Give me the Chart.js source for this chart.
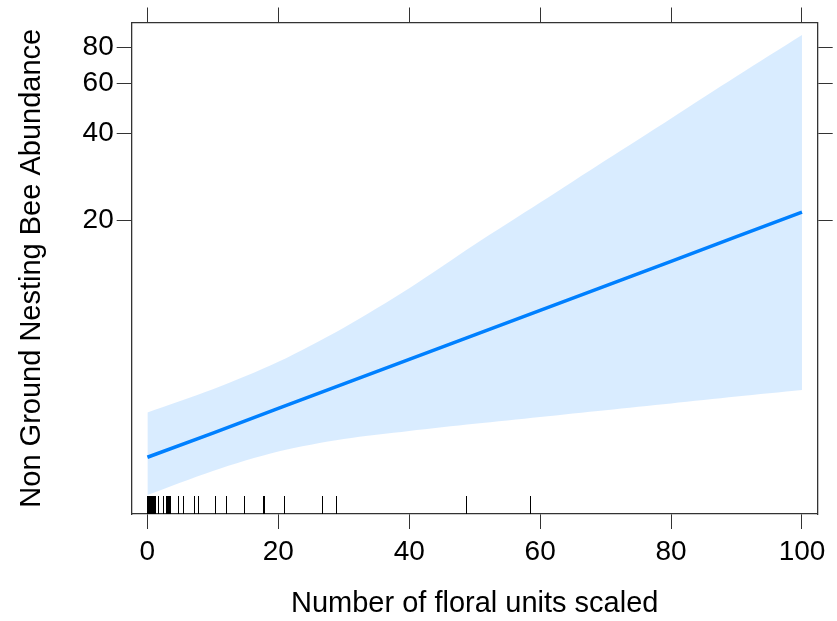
<!DOCTYPE html>
<html>
<head>
<meta charset="utf-8">
<script src="https://cdn.jsdelivr.net/npm/chart.js@4"></script>
<style>
  html, body { margin: 0; padding: 0; background: #fff; }
  #wrap { width: 837px; height: 621px; }
</style>
</head>
<body>
<div id="wrap"><canvas id="chart" width="837" height="621"></canvas></div>
<script>
// values
const xValues = [0, 10, 20, 30, 40, 50, 60, 70, 80, 90, 100];
const fitValues = [2.98, 3.62, 4.41, 5.37, 6.54, 7.96, 9.69, 11.8, 14.36, 17.5, 21.3];
const upperValues = [4.27, 5.14, 6.41, 8.43, 11.57, 16.42, 23.0, 32.3, 45.2, 63.4, 88.3];
const lowerValues = [2.2, 2.67, 3.12, 3.45, 3.68, 3.9, 4.12, 4.35, 4.59, 4.85, 5.11];
const rugValues = [0, 0.15, 0.3, 0.45, 0.6, 0.75, 0.9, 1.05, 1.2, 1.6, 2.45, 2.8, 2.95, 3.1, 3.3, 3.45,
  4.6, 5.4, 7.1, 7.8, 10.4, 12.0, 14.7, 17.6, 17.8, 20.8, 26.6, 28.8, 48.6, 58.5];
const xTickValues = [0, 20, 40, 60, 80, 100];
const yTickValues = [20, 40, 60, 80];

const FONT = "'Liberation Sans', Arial, sans-serif";
const AXIS_COLOR = "#333";

const toPoints = (vals) => xValues.map((x, i) => ({ x: x, y: vals[i] }));

// small rug of observed x values along the bottom edge
const rugPlugin = {
  id: "rug",
  afterDatasetsDraw(chart) {
    const { ctx, chartArea, scales } = chart;
    ctx.save();
    ctx.strokeStyle = "#000";
    ctx.lineWidth = 1;
    rugValues.forEach((v) => {
      const px = Math.round(scales.x.getPixelForValue(v)) + 0.5;
      ctx.beginPath();
      ctx.moveTo(px, chartArea.bottom);
      ctx.lineTo(px, chartArea.bottom - 18);
      ctx.stroke();
    });
    ctx.restore();
  },
};

const grid = {
  drawOnChartArea: false,
  tickLength: 15,
  tickColor: AXIS_COLOR,
  tickWidth: 1,
};
const border = { color: AXIS_COLOR, width: 1.3 };

new Chart(document.getElementById("chart"), {
  type: "line",
  data: {
    datasets: [
      {
        label: "fit",
        data: toPoints(fitValues),
        borderColor: "#0080ff",
        borderWidth: 3.5,
        pointRadius: 0,
        fill: false,
        tension: 0,
      },
      {
        label: "upper",
        data: toPoints(upperValues),
        borderWidth: 0,
        borderColor: "rgba(0,0,0,0)",
        backgroundColor: "rgba(0,128,255,0.15)",
        pointRadius: 0,
        fill: "+1",
        tension: 0.3,
      },
      {
        label: "lower",
        data: toPoints(lowerValues),
        borderWidth: 0,
        borderColor: "rgba(0,0,0,0)",
        pointRadius: 0,
        fill: false,
        tension: 0.3,
      },
    ],
  },
  options: {
    responsive: false,
    animation: false,
    layout: { padding: 0 },
    plugins: {
      legend: { display: false },
      tooltip: { enabled: false },
    },
    scales: {
      x: {
        type: "linear",
        position: "bottom",
        min: -2.4,
        max: 102.4,
        afterBuildTicks: (s) => { s.ticks = xTickValues.map((v) => ({ value: v })); },
        afterFit: (s) => { s.height = 107; },
        grid: grid,
        border: border,
        ticks: {
          color: "#000",
          font: { family: FONT, size: 28 },
          padding: 6,
          maxRotation: 0,
          autoSkip: false,
        },
        title: {
          display: true,
          text: "Number of floral units scaled",
          color: "#000",
          font: { family: FONT, size: 29 },
          padding: { top: 0, bottom: 0 },
        },
      },
      x2: {
        type: "linear",
        position: "top",
        min: -2.4,
        max: 102.4,
        afterBuildTicks: (s) => { s.ticks = xTickValues.map((v) => ({ value: v })); },
        afterFit: (s) => { s.height = 22.5; },
        grid: grid,
        border: border,
        ticks: { display: false },
      },
      y: {
        type: "logarithmic",
        position: "left",
        min: 1.89,
        max: 97.6,
        afterBuildTicks: (s) => { s.ticks = yTickValues.map((v) => ({ value: v })); },
        afterFit: (s) => { s.width = 131.7; },
        grid: grid,
        border: border,
        ticks: {
          color: "#000",
          font: { family: FONT, size: 28 },
          padding: 3,
          callback: (v) => String(v),
        },
        title: {
          display: true,
          text: "Non Ground Nesting Bee Abundance",
          color: "#000",
          font: { family: FONT, size: 29 },
          padding: { top: 15, bottom: 0 },
        },
      },
      y2: {
        type: "logarithmic",
        position: "right",
        min: 1.89,
        max: 97.6,
        afterBuildTicks: (s) => { s.ticks = yTickValues.map((v) => ({ value: v })); },
        afterFit: (s) => { s.width = 19.3; },
        grid: grid,
        border: border,
        ticks: { display: false },
      },
    },
  },
  plugins: [rugPlugin],
});
</script>
</body>
</html>
